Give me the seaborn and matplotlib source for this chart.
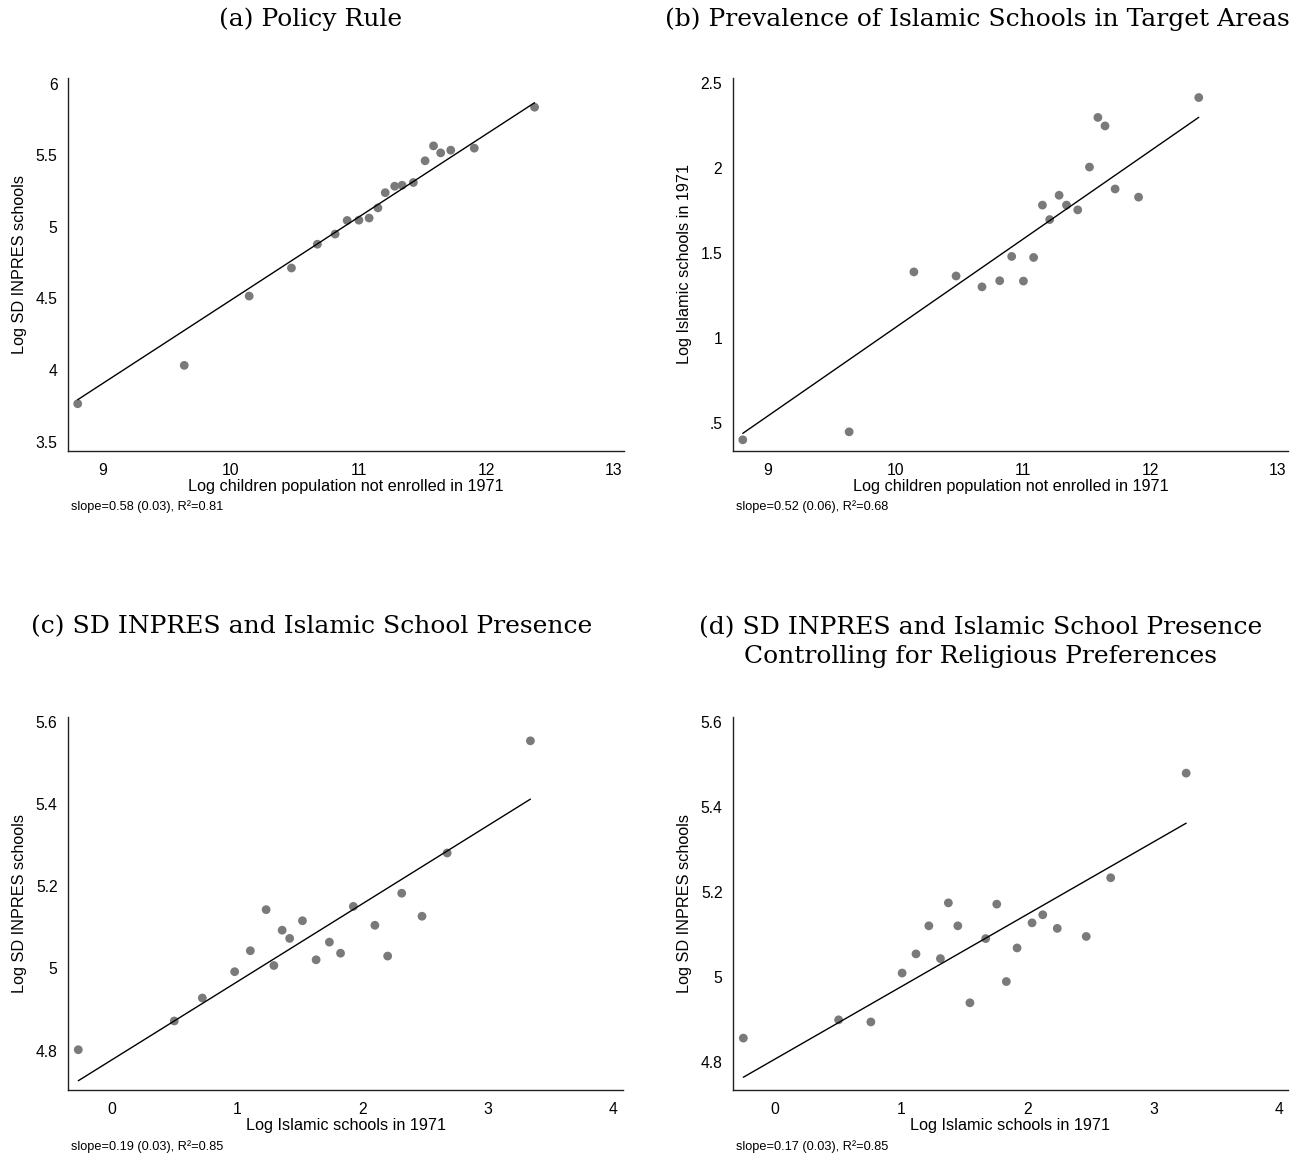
import numpy as np
import pandas as pd
import matplotlib
matplotlib.use("Agg")
import matplotlib.pyplot as plt
import seaborn as sns

# ---- binned district data ----
log_children_not_enrolled = [8.802, 9.636, 10.144, 10.475, 10.678, 10.817, 10.911, 11.003,
                             11.083, 11.152, 11.209, 11.283, 11.341, 11.429, 11.521, 11.587,
                             11.643, 11.722, 11.906, 12.378]
log_inpres_a = [3.765, 4.033, 4.517, 4.713, 4.879, 4.950, 5.045, 5.047, 5.062, 5.133,
                5.239, 5.284, 5.291, 5.310, 5.462, 5.566, 5.517, 5.536, 5.550, 5.836]
log_islamic_b = [0.401, 0.448, 1.389, 1.365, 1.301, 1.337, 1.480, 1.335, 1.474, 1.782,
                 1.697, 1.840, 1.782, 1.754, 2.006, 2.298, 2.248, 1.877, 1.829, 2.415]

log_islamic_c = [-0.271, 0.495, 0.719, 0.977, 1.102, 1.228, 1.290, 1.356, 1.416, 1.518,
                 1.627, 1.733, 1.822, 1.924, 2.096, 2.198, 2.310, 2.472, 2.673, 3.337]
log_inpres_c = [4.802, 4.872, 4.928, 4.992, 5.043, 5.143, 5.007, 5.093, 5.073, 5.116,
                5.021, 5.064, 5.037, 5.151, 5.105, 5.030, 5.183, 5.127, 5.281, 5.554]

log_islamic_d = [-0.253, 0.503, 0.759, 1.007, 1.117, 1.219, 1.311, 1.374, 1.449, 1.545,
                 1.670, 1.758, 1.834, 1.919, 2.038, 2.123, 2.238, 2.468, 2.662, 3.261]
log_inpres_d = [4.857, 4.900, 4.895, 5.010, 5.055, 5.121, 5.044, 5.175, 5.121, 4.940,
                5.091, 5.172, 4.990, 5.069, 5.128, 5.147, 5.115, 5.096, 5.234, 5.480]

# fitted lines
fit_slopes = [0.58, 0.52, 0.19, 0.17]
fit_intercepts = [-1.312, -4.138, 4.778, 4.808]
fit_notes = ["slope=0.58 (0.03), R\u00b2=0.81",
             "slope=0.52 (0.06), R\u00b2=0.68",
             "slope=0.19 (0.03), R\u00b2=0.85",
             "slope=0.17 (0.03), R\u00b2=0.85"]

panel_titles = ["(a) Policy Rule",
                "(b) Prevalence of Islamic Schools in Target Areas",
                "(c) SD INPRES and Islamic School Presence",
                "(d) SD INPRES and Islamic School Presence\nControlling for Religious Preferences"]
x_titles = ["Log children population not enrolled in 1971",
            "Log children population not enrolled in 1971",
            "Log Islamic schools in 1971",
            "Log Islamic schools in 1971"]
y_titles = ["Log SD INPRES schools", "Log Islamic schools in 1971",
            "Log SD INPRES schools", "Log SD INPRES schools"]

x_ticks_ab = [9, 10, 11, 12, 13]
x_ticks_cd = [0, 1, 2, 3, 4]
y_ticks_a = [3.5, 4, 4.5, 5, 5.5, 6]
y_labels_a = ["3.5", "4", "4.5", "5", "5.5", "6"]
y_ticks_b = [0.5, 1, 1.5, 2, 2.5]
y_labels_b = [".5", "1", "1.5", "2", "2.5"]
y_ticks_cd = [4.8, 5.0, 5.2, 5.4, 5.6]
y_labels_cd = ["4.8", "5", "5.2", "5.4", "5.6"]

sns.set_theme(style="white")
plt.rcParams["font.family"] = ["Liberation Sans", "DejaVu Sans"]
plt.rcParams["text.color"] = "black"
plt.rcParams["axes.labelcolor"] = "black"

W, H = 1299, 1155
fig = plt.figure(figsize=(W / 100, H / 100), dpi=100)
fig.patch.set_facecolor("white")


def px_rect(left, top, right, bottom):
    return [left / W, 1 - bottom / H, (right - left) / W, (bottom - top) / H]


panels = [
    dict(x=log_children_not_enrolled, y=log_inpres_a, rect=px_rect(68, 78, 624, 450.7),
         xlim=(8.726, 13.078), ylim=(3.437, 6.04), xt=x_ticks_ab, yt=y_ticks_a, yl=y_labels_a,
         note=(71, 507), title=(311, 19)),
    dict(x=log_children_not_enrolled, y=log_islamic_b, rect=px_rect(732.7, 78, 1288, 450.7),
         xlim=(8.723, 13.078), ylim=(0.337, 2.53), xt=x_ticks_ab, yt=y_ticks_b, yl=y_labels_b,
         note=(736, 507), title=(977, 19)),
    dict(x=log_islamic_c, y=log_inpres_c, rect=px_rect(68, 717, 623, 1090),
         xlim=(-0.353, 4.076), ylim=(4.704, 5.612), xt=x_ticks_cd, yt=y_ticks_cd, yl=y_labels_cd,
         note=(71, 1147), title=(312, 627)),
    dict(x=log_islamic_d, y=log_inpres_d, rect=px_rect(733, 717, 1288, 1090),
         xlim=(-0.335, 4.069), ylim=(4.735, 5.612), xt=x_ticks_cd, yt=y_ticks_cd, yl=y_labels_cd,
         note=(736, 1147), title=(980.5, 642)),
]

axis_color = "#222222"
for i, p in enumerate(panels):
    ax = fig.add_axes(p["rect"])
    df = pd.DataFrame({"x": p["x"], "y": p["y"]})
    sns.scatterplot(data=df, x="x", y="y", ax=ax, color="#7a7a7a", s=40,
                    edgecolor="none", linewidth=0, zorder=3)
    xs = np.array([df["x"].min(), df["x"].max()])
    line = pd.DataFrame({"x": xs, "y": fit_intercepts[i] + fit_slopes[i] * xs})
    sns.lineplot(data=line, x="x", y="y", ax=ax, color="black", linewidth=1.0, zorder=4)

    ax.set_xlim(*p["xlim"])
    ax.set_ylim(*p["ylim"])
    ax.set_xticks(p["xt"])
    ax.set_xticklabels([str(t) for t in p["xt"]])
    ax.set_yticks(p["yt"])
    ax.set_yticklabels(p["yl"])
    sns.despine(ax=ax)
    for s in ("left", "bottom"):
        ax.spines[s].set_color(axis_color)
        ax.spines[s].set_linewidth(1.0)
    ax.tick_params(axis="both", which="major", length=6.5, width=0.9, color=axis_color,
                   labelsize=11.3, labelcolor="black", direction="out")
    ax.tick_params(axis="x", pad=2)
    ax.tick_params(axis="y", pad=1)
    ax.set_xlabel(x_titles[i], fontsize=11.7, labelpad=1)
    ax.set_ylabel(y_titles[i], fontsize=11.7, labelpad=6)
    ax.set_facecolor("white")
    ax.grid(False)

    nx, ny = p["note"]
    fig.text(nx / W, 1 - ny / H, fit_notes[i], fontsize=9.2, ha="left", va="center")
    tx, ty = p["title"]
    fig.text(tx / W, 1 - ty / H, panel_titles[i], family=["DejaVu Serif"], fontsize=18,
             ha="center", va="center", multialignment="center", linespacing=1.36,
             color="black")

fig.savefig("out.png", dpi=100, facecolor="white")
